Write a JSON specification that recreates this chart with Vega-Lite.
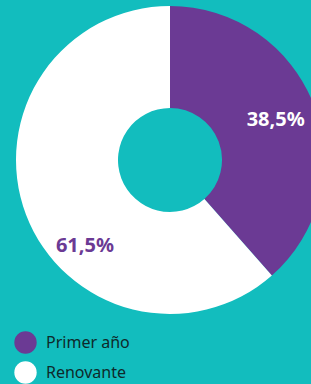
{
  "$schema": "https://vega.github.io/schema/vega-lite/v6.json",
  "width": 311,
  "height": 384,
  "autosize": {"type": "fit", "contains": "padding"},
  "padding": 0,
  "background": "#12BDBE",
  "config": {"view": {"stroke": null}},
  "data": {
    "values": [
      {"category": "Primer año", "value": 38.5, "label": "38,5%"},
      {"category": "Renovante", "value": 61.5, "label": "61,5%"}
    ]
  },
  "encoding": {
    "theta": {"field": "value", "type": "quantitative", "stack": true},
    "order": {"field": "category", "sort": "ascending"}
  },
  "layer": [
    {
      "mark": {"type": "arc", "radius": 154, "radius2": 52, "x": 170, "y": 160},
      "encoding": {
        "color": {
          "field": "category",
          "type": "nominal",
          "scale": {"domain": ["Primer año", "Renovante"], "range": ["#6B3A94", "#FFFFFF"]},
          "legend": {
            "title": null,
            "orient": "none",
            "legendX": 14,
            "legendY": 331,
            "symbolType": "circle",
            "symbolSize": 500,
            "symbolStrokeWidth": 0,
            "symbolOpacity": 1,
            "labelFont": "Noto Sans",
            "labelFontSize": 16,
            "labelColor": "#0E2A2B",
            "labelOffset": 9,
            "rowPadding": 7,
            "padding": 0
          }
        }
      }
    },
    {
      "mark": {"type": "text", "radius": 113, "x": 170, "y": 160, "font": "Noto Sans", "fontWeight": "bold", "fontSize": 20, "fill": "#FFFFFF", "baseline": "middle", "align": "center"},
      "encoding": {
        "detail": {"field": "category"},
        "text": {"field": "label"},
        "opacity": {"condition": {"test": "datum.category == 'Primer año'", "value": 1}, "value": 0}
      }
    },
    {
      "mark": {"type": "text", "radius": 121, "thetaOffset": -0.43, "x": 170, "y": 160, "font": "Noto Sans", "fontWeight": "bold", "fontSize": 20, "fill": "#6B3A94", "baseline": "middle", "align": "center"},
      "encoding": {
        "detail": {"field": "category"},
        "text": {"field": "label"},
        "opacity": {"condition": {"test": "datum.category == 'Renovante'", "value": 1}, "value": 0}
      }
    }
  ]
}
